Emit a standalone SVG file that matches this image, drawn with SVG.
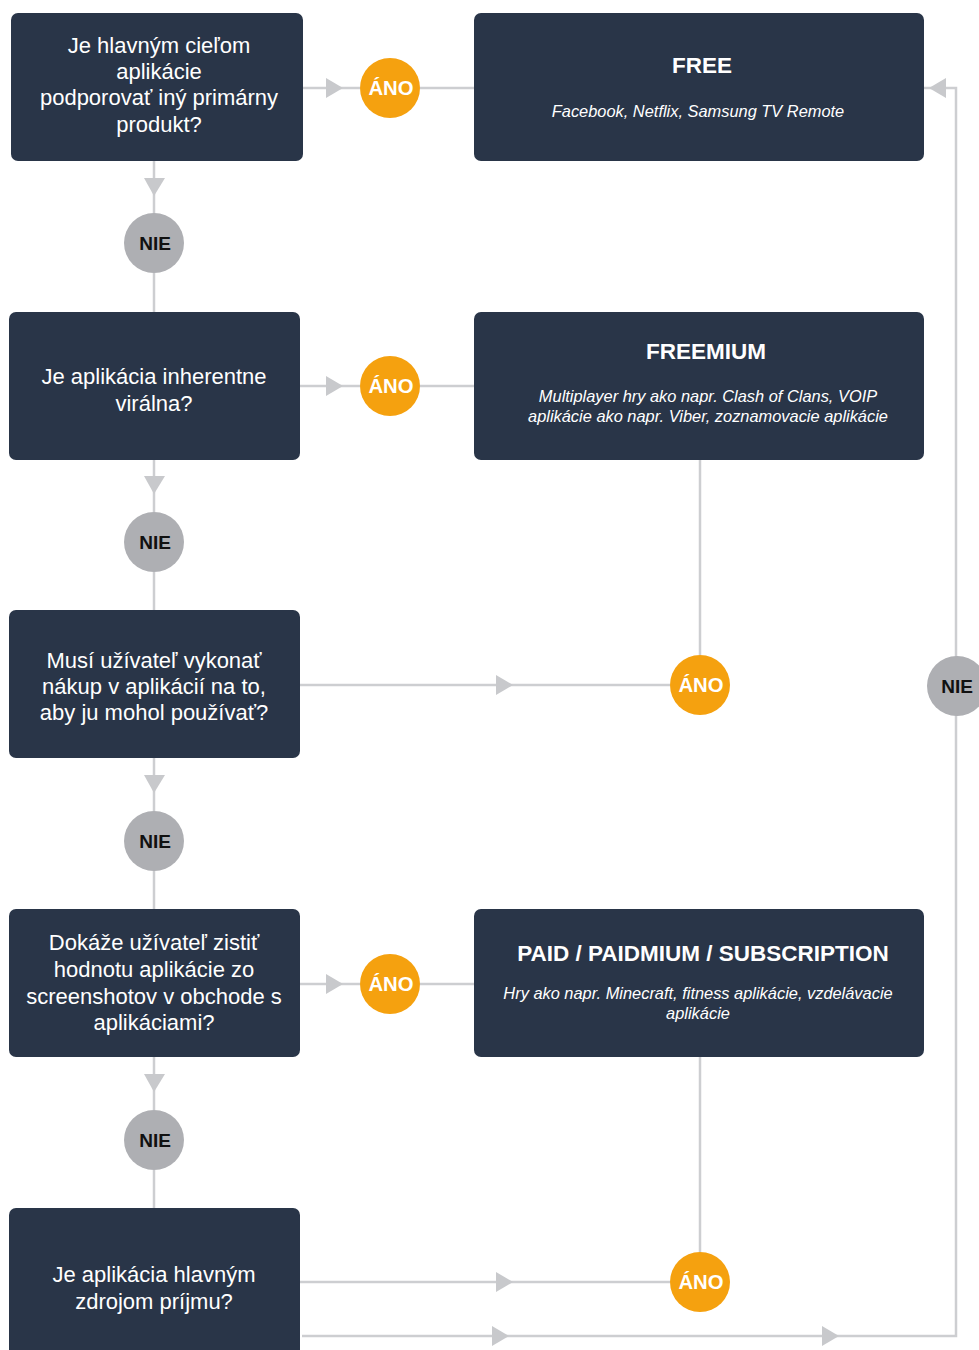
<svg xmlns="http://www.w3.org/2000/svg" width="979" height="1350" viewBox="0 0 979 1350">
<style>
.box{fill:#293548}
.q{font-family:"Liberation Sans",Arial,sans-serif;font-size:22px;fill:#ffffff;text-anchor:middle}
.t{font-family:"Liberation Sans",Arial,sans-serif;font-size:22.5px;font-weight:bold;fill:#ffffff;text-anchor:middle}
.s{font-family:"Liberation Sans",Arial,sans-serif;font-size:16.4px;font-style:italic;fill:#ffffff;text-anchor:middle}
.yes{fill:#F5A10F}
.no{fill:#AEAFB3}
.yt{font-family:"Liberation Sans",Arial,sans-serif;font-size:20.3px;font-weight:bold;fill:#ffffff;text-anchor:middle}
.nt{font-family:"Liberation Sans",Arial,sans-serif;font-size:19px;font-weight:bold;fill:#111111;text-anchor:middle}
.ln{stroke:#CDCED1;stroke-width:2.5;fill:none}
.ah{fill:#C8C9CC}
</style>
<rect width="979" height="1350" fill="#ffffff"/>
<g id="connectors">
<line class="ln" x1="303" y1="88" x2="360" y2="88"/>
<line class="ln" x1="420" y1="88" x2="474" y2="88"/>
<polygon class="ah" points="326,78 343,88 326,98"/>
<line class="ln" x1="154" y1="161" x2="154" y2="214"/>
<line class="ln" x1="154" y1="273" x2="154" y2="312"/>
<polygon class="ah" points="144,178 165,178 154,196"/>
<line class="ln" x1="300" y1="386" x2="360" y2="386"/>
<line class="ln" x1="420" y1="386" x2="474" y2="386"/>
<polygon class="ah" points="326,376 343,386 326,396"/>
<line class="ln" x1="154" y1="460" x2="154" y2="512"/>
<line class="ln" x1="154" y1="572" x2="154" y2="610"/>
<polygon class="ah" points="144,476 165,476 154,494"/>
<line class="ln" x1="300" y1="685" x2="670" y2="685"/>
<polygon class="ah" points="496,675 513,685 496,695"/>
<line class="ln" x1="700" y1="460" x2="700" y2="655"/>
<line class="ln" x1="154" y1="758" x2="154" y2="811"/>
<line class="ln" x1="154" y1="871" x2="154" y2="909"/>
<polygon class="ah" points="144,775 165,775 154,793"/>
<line class="ln" x1="300" y1="984" x2="360" y2="984"/>
<line class="ln" x1="420" y1="984" x2="474" y2="984"/>
<polygon class="ah" points="326,974 343,984 326,994"/>
<line class="ln" x1="154" y1="1057" x2="154" y2="1110"/>
<line class="ln" x1="154" y1="1170" x2="154" y2="1208"/>
<polygon class="ah" points="144,1074 165,1074 154,1092"/>
<line class="ln" x1="300" y1="1282" x2="670" y2="1282"/>
<polygon class="ah" points="496,1272 513,1282 496,1292"/>
<line class="ln" x1="700" y1="1057" x2="700" y2="1252"/>
<polyline class="ln" points="302,1336 956,1336 956,88 924,88"/>
<polygon class="ah" points="492,1326 509,1336 492,1346"/>
<polygon class="ah" points="822,1326 839,1336 822,1346"/>
<polygon class="ah" points="946,78 929,88 946,98"/>
</g>
<g id="q1"><rect class="box" x="11" y="13" width="292" height="148" rx="7"/>
<text class="q" x="159" y="53">Je hlavným cieľom</text>
<text class="q" x="159" y="79">aplikácie</text>
<text class="q" x="159" y="105">podporovať iný primárny</text>
<text class="q" x="159" y="132">produkt?</text></g>
<g id="free"><rect class="box" x="474" y="13" width="450" height="148" rx="7"/>
<text class="t" x="702" y="73">FREE</text>
<text class="s" x="698" y="117">Facebook, Netflix, Samsung TV Remote</text></g>
<g id="yes1"><circle class="yes" cx="390" cy="88" r="30"/><text class="yt" x="391" y="95">ÁNO</text></g>
<g id="no1"><circle class="no" cx="154" cy="243" r="30"/><text class="nt" x="155" y="250">NIE</text></g>
<g id="q2"><rect class="box" x="9" y="312" width="291" height="148" rx="7"/>
<text class="q" x="154" y="384">Je aplikácia inherentne</text>
<text class="q" x="154" y="411">virálna?</text></g>
<g id="freemium"><rect class="box" x="474" y="312" width="450" height="148" rx="7"/>
<text class="t" x="706" y="359">FREEMIUM</text>
<text class="s" x="708" y="402">Multiplayer hry ako napr. Clash of Clans, VOIP</text>
<text class="s" x="708" y="422">aplikácie ako napr. Viber, zoznamovacie aplikácie</text></g>
<g id="yes2"><circle class="yes" cx="390" cy="386" r="30"/><text class="yt" x="391" y="393">ÁNO</text></g>
<g id="no2"><circle class="no" cx="154" cy="542" r="30"/><text class="nt" x="155" y="549">NIE</text></g>
<g id="q3"><rect class="box" x="9" y="610" width="291" height="148" rx="7"/>
<text class="q" x="154" y="668">Musí užívateľ vykonať</text>
<text class="q" x="154" y="694">nákup v aplikácií na to,</text>
<text class="q" x="154" y="720">aby ju mohol používať?</text></g>
<g id="yes3"><circle class="yes" cx="700" cy="685" r="30"/><text class="yt" x="701" y="692">ÁNO</text></g>
<g id="noR"><circle class="no" cx="957" cy="686" r="30"/><text class="nt" x="957" y="693">NIE</text></g>
<g id="no3"><circle class="no" cx="154" cy="841" r="30"/><text class="nt" x="155" y="848">NIE</text></g>
<g id="q4"><rect class="box" x="9" y="909" width="291" height="148" rx="7"/>
<text class="q" x="154" y="950">Dokáže užívateľ zistiť</text>
<text class="q" x="154" y="977">hodnotu aplikácie zo</text>
<text class="q" x="154" y="1004">screenshotov v obchode s</text>
<text class="q" x="154" y="1030">aplikáciami?</text></g>
<g id="paid"><rect class="box" x="474" y="909" width="450" height="148" rx="7"/>
<text class="t" x="703" y="961">PAID / PAIDMIUM / SUBSCRIPTION</text>
<text class="s" x="698" y="999">Hry ako napr. Minecraft, fitness aplikácie, vzdelávacie</text>
<text class="s" x="698" y="1019">aplikácie</text></g>
<g id="yes4"><circle class="yes" cx="390" cy="984" r="30"/><text class="yt" x="391" y="991">ÁNO</text></g>
<g id="no4"><circle class="no" cx="154" cy="1140" r="30"/><text class="nt" x="155" y="1147">NIE</text></g>
<g id="q5"><rect class="box" x="9" y="1208" width="291" height="160" rx="7"/>
<text class="q" x="154" y="1282">Je aplikácia hlavným</text>
<text class="q" x="154" y="1309">zdrojom príjmu?</text></g>
<g id="yes5"><circle class="yes" cx="700" cy="1282" r="30"/><text class="yt" x="701" y="1289">ÁNO</text></g>
</svg>
